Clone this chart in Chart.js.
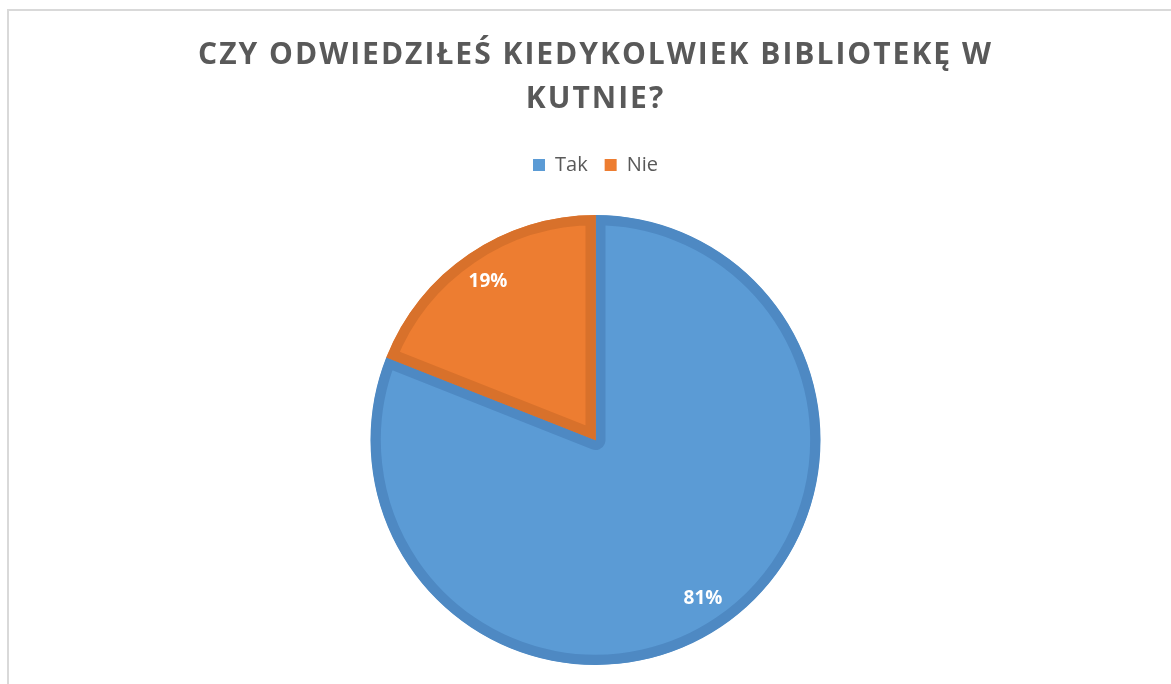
<!DOCTYPE html>
<html>
<head>
<meta charset="utf-8">
<script src="https://cdn.jsdelivr.net/npm/chart.js@4"></script>
<style>
  html, body { margin: 0; padding: 0; background: #fff; overflow: hidden; }
  .frame { position: absolute; left: 7px; top: 9px; width: 1300px; height: 800px; border: 2px solid #d9d9d9; }
  .wrap { position: absolute; left: 0; top: 0; width: 1171px; height: 720px; }
</style>
</head>
<body>
<div class="frame"></div>
<div class="wrap"><canvas id="pieChart"></canvas></div>
<script>
// Chart data
const labels = ['Tak', 'Nie'];
const shares = [81, 19];
const fillColors = ['#5b9bd5', '#ed7d31'];
const edgeColors = ['#4e89c3', '#d8712b'];

Chart.defaults.font.family = '"Open Sans", sans-serif';

// Percent labels placed near the outer edge of each slice
const percentLabels = {
  id: 'percentLabels',
  beforeDraw(chart) {
    // wider letter spacing for the title only
    const tb = chart.titleBlock;
    if (tb && !tb._spaced) {
      const orig = tb.draw.bind(tb);
      tb.draw = function(area) {
        const c = chart.ctx;
        c.save();
        c.letterSpacing = '2px';
        orig(area);
        c.restore();
      };
      tb._spaced = true;
    }
  },
  afterDatasetsDraw(chart) {
    const ctx = chart.ctx;
    const meta = chart.getDatasetMeta(0);
    ctx.save();
    ctx.font = 'bold 19px "Open Sans"';
    ctx.fillStyle = '#ffffff';
    ctx.textAlign = 'center';
    ctx.textBaseline = 'middle';
    meta.data.forEach(function(arc, i) {
      const p = arc.getProps(['x', 'y', 'startAngle', 'endAngle', 'outerRadius'], true);
      const mid = (p.startAngle + p.endAngle) / 2;
      const r = p.outerRadius * 0.85;
      ctx.fillText(shares[i] + '%', p.x + Math.cos(mid) * r, p.y + Math.sin(mid) * r);
    });
    ctx.restore();
  }
};

const ctx = document.getElementById('pieChart').getContext('2d');
const pieChart = new Chart(ctx, {
  type: 'pie',
  data: {
    labels: labels,
    datasets: [{
      data: shares,
      backgroundColor: fillColors,
      borderColor: edgeColors,
      borderWidth: 10,
      borderAlign: 'inner',
      hoverBorderWidth: 0
    }]
  },
  options: {
    responsive: true,
    maintainAspectRatio: false,
    animation: false,
    radius: 225,
    layout: {
      padding: { left: 20, right: 0, top: 0, bottom: 25 }
    },
    plugins: {
      title: {
        display: true,
        text: ['CZY ODWIEDZIŁEŚ KIEDYKOLWIEK BIBLIOTEKĘ W', 'KUTNIE?'],
        color: '#595959',
        font: { size: 30, weight: 'bold', lineHeight: 1.467 },
        padding: { top: 33, bottom: 17 }
      },
      legend: {
        position: 'top',
        labels: {
          color: '#595959',
          font: { size: 20 },
          boxWidth: 12,
          boxHeight: 12,
          padding: 17,
          generateLabels: function(chart) {
            const items = Chart.overrides.pie.plugins.legend.labels.generateLabels(chart);
            items.forEach(function(item) { item.lineWidth = 0; });
            return items;
          }
        }
      },
      tooltip: { enabled: false }
    }
  },
  plugins: [percentLabels]
});
</script>
</body>
</html>
